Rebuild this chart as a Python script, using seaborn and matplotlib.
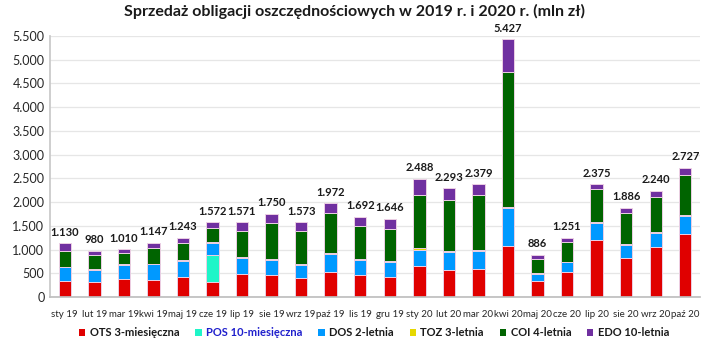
import numpy as np
import pandas as pd
import matplotlib
matplotlib.use("Agg")
import matplotlib.pyplot as plt
import seaborn as sns
from matplotlib.ticker import FuncFormatter, FixedLocator
from matplotlib.patches import Patch

months = ["sty 19", "lut 19", "mar 19", "kwi 19", "maj 19", "cze 19", "lip 19", "sie 19",
          "wrz 19", "paź 19", "lis 19", "gru 19", "sty 20", "lut 20", "mar 20", "kwi 20",
          "maj 20", "cze 20", "lip 20", "sie 20", "wrz 20", "paź 20"]

ots = [330, 316, 386, 365, 428, 316, 484, 470, 400, 533, 470, 428, 653, 568, 596, 1081,
       330, 533, 1200, 821, 1060, 1319]
pos = [0, 0, 0, 0, 0, 561, 0, 0, 0, 0, 0, 0, 0, 0, 0, 0, 0, 0, 0, 0, 0, 0]
dos = [300, 245, 287, 323, 330, 260, 337, 309, 274, 372, 309, 316, 343, 379, 372, 786,
       161, 204, 358, 274, 287, 379]
toz = [10, 20, 15, 10, 12, 15, 15, 25, 20, 25, 15, 15, 28, 28, 28, 25,
       10, 10, 20, 15, 20, 25]
coi = [320, 296, 231, 340, 360, 308, 560, 754, 700, 838, 708, 679, 1122, 1074, 1158, 2858,
       300, 404, 688, 665, 731, 852]
totals = [1130, 980, 1010, 1147, 1243, 1572, 1571, 1750, 1573, 1972, 1692, 1646, 2488, 2293,
          2379, 5427, 886, 1251, 2375, 1886, 2240, 2727]
# EDO 10-letnia = remainder to reported total
edo = [t - a - b - c - d - e for t, a, b, c, d, e in zip(totals, ots, pos, dos, toz, coi)]

series_names = ["OTS 3-miesięczna", "POS 10-miesięczna", "DOS 2-letnia",
                "TOZ 3-letnia", "COI 4-letnia", "EDO 10-letnia"]
series_values = [ots, pos, dos, toz, coi, edo]
colors = ["#E00000", "#1EF5C8", "#0099FF", "#E6D800", "#006400", "#7030A0"]

FONT = ["Lato", "DejaVu Sans"]
sns.set_theme(style="white")
plt.rcParams["font.family"] = FONT

fig = plt.figure(figsize=(7.10, 3.51), dpi=100)
ax = fig.add_axes([0.0704, 0.1538, 0.9156, 0.7436])

bottom = np.zeros(len(months))
for name, vals, col in zip(series_names, series_values, colors):
    df = pd.DataFrame({"month": months, "value": vals})
    sns.barplot(data=df, x="month", y="value", bottom=bottom, color=col, width=0.42,
                edgecolor="#ECCFE4", linewidth=0.7, ax=ax, saturation=1, label=name,
                legend=False)
    bottom = bottom + np.array(vals, dtype=float)

for i, t in enumerate(totals):
    ax.annotate(f"{t:,}".replace(",", "."), (i, t), xytext=(0, 4), textcoords="offset points",
                ha="center", va="bottom", fontsize=8, fontweight="bold", color="#1a1a1a")

ax.set_xlim(-0.5, len(months) - 0.5)
ax.set_ylim(0, 5500)
ax.set_yticks(np.arange(0, 5501, 500))
ax.yaxis.set_major_formatter(FuncFormatter(lambda v, p: f"{int(v):,}".replace(",", ".")))
ax.grid(axis="y", color="#E6E6E6", linewidth=0.9)
ax.set_axisbelow(True)
ax.set_xlabel("")
ax.set_ylabel("")
for s in ["top", "right"]:
    ax.spines[s].set_visible(False)
ax.spines["left"].set_color("#C8C8C8")
ax.spines["bottom"].set_color("#BFBFBF")
ax.tick_params(axis="y", length=0, labelsize=9, colors="#262626", pad=4)
ax.tick_params(axis="x", which="major", length=0, labelsize=7, colors="#262626", pad=9)
ax.xaxis.set_minor_locator(FixedLocator(np.arange(-0.5, len(months), 1.0)))
ax.tick_params(axis="x", which="minor", length=4, color="#BFBFBF", width=0.8, direction="out")

fig.text(0.5, 0.966, "Sprzedaż obligacji oszczędnościowych w 2019 r. i 2020 r. (mln zł)",
         ha="center", va="center", fontsize=11.5, fontweight="bold", color="#1a1a1a")

handles = [Patch(facecolor=c, edgecolor="none") for c in colors]
leg = fig.legend(handles, series_names, loc="center", bbox_to_anchor=(0.527, 0.052), ncol=6,
                 frameon=False, handlelength=0.55, handleheight=0.55, handletextpad=0.4,
                 columnspacing=1.45, prop={"size": 8, "weight": "bold"})
for txt in leg.get_texts():
    if txt.get_text().startswith("POS"):
        txt.set_color("#1F1FCC")
    else:
        txt.set_color("#1a1a1a")

fig.savefig("out.png", dpi=100)
